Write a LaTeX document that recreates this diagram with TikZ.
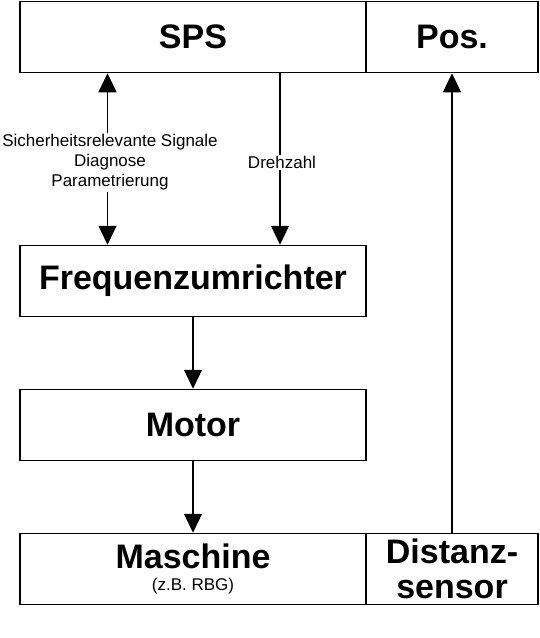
\documentclass[tikz,border=0pt]{standalone}
\usepackage{fontspec}
\setmainfont{Liberation Sans}
\usetikzlibrary{arrows.meta}

\begin{document}
\begin{tikzpicture}[x=1pt,y=-1pt,
    big/.tip={Triangle[width=18pt,length=19pt]},
    block/.style={draw,line width=1.5pt,minimum height=71pt,inner sep=0pt,align=center,font=\fontsize{34}{35}\selectfont\bfseries},
    wide/.style={block,minimum width=346pt},
    narrow/.style={block,minimum width=172pt},
    sig/.style={-big,line width=1.3pt},
    lbl/.style={fill=white,inner sep=1.5pt,align=center,font=\fontsize{17}{20}\selectfont}]
    \useasboundingbox (0,0) rectangle (540,638);
    % Boxes
    \node[wide] (sps) at (193,37) {SPS};
    \node[narrow] (pos) at (452,37) {Pos.};
    \node[wide] (fu) at (193,281) {Frequenzumrichter};
    \node[wide] (motor) at (193,425) {Motor};
    \node[wide] (masch) at (193,569) {Maschine\\[-13pt]{\fontsize{17}{20}\mdseries\selectfont (z.B. RBG)}};
    \node[narrow] (dist) at (452,569) {Distanz-\\sensor};
    % Signals
    \draw[sig,big-big] ([xshift=-85.5pt]sps.south) -- node[lbl,pos=0.52,xshift=2.5pt]{Sicherheitsrelevante Signale\\Diagnose\\Parametrierung} ([xshift=-85.5pt]fu.north);
    \draw[sig] ([xshift=87pt]sps.south) -- node[lbl,pos=0.52,xshift=2pt]{Drehzahl} ([xshift=87pt]fu.north);
    \draw[sig] (fu) -- (motor);
    \draw[sig] (motor) -- (masch);
    \draw[sig] (dist) -- (pos);
\end{tikzpicture}
\end{document}
